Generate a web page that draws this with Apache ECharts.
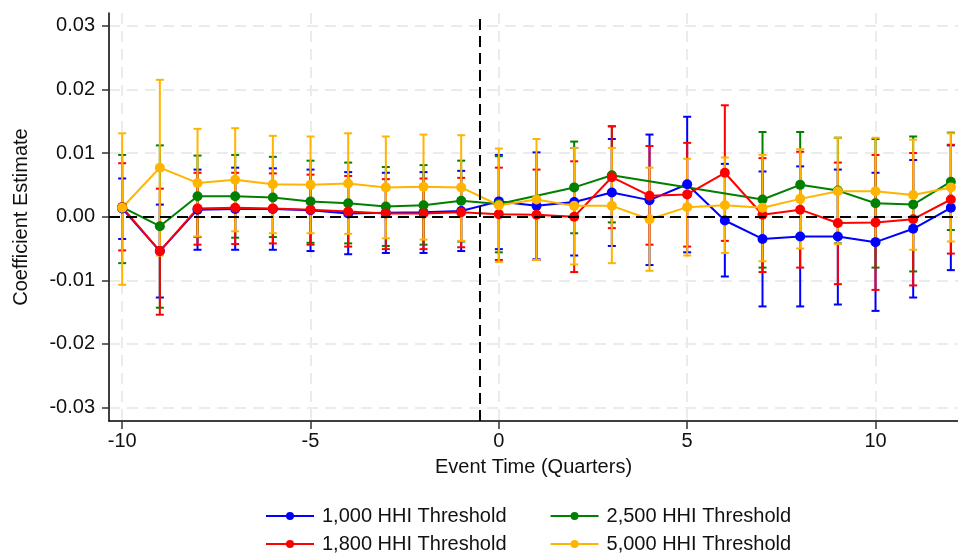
<!DOCTYPE html>
<html>
<head>
<meta charset="utf-8">
<script src="https://cdn.jsdelivr.net/npm/echarts@6/dist/echarts.min.js"></script>
<style>
  html, body { margin: 0; padding: 0; background: #fff; }
  #chart { width: 958px; height: 554px; }
</style>
</head>
<body>
<div id="chart"></div>
<script>
// Event-study coefficients with 95% confidence intervals by HHI threshold
const eventTime = [-10, -9, -8, -7, -6, -5, -4, -3, -2, -1, 0, 1, 2, 3, 4, 5, 6, 7, 8, 9, 10, 11, 12];

const xTicks = [-10, -5, 0, 5, 10];
const yTicks = [-0.03, -0.02, -0.01, 0, 0.01, 0.02, 0.03];

// 1,000 HHI threshold
const est1000 = [0.0013, -0.0054, 0.0011, 0.0012, 0.0012, 0.0010, 0.0005, 0.0006, 0.0007, 0.0009, 0.0024, 0.0017, 0.0023, 0.0038, 0.0026, 0.0051, -0.0006, -0.0035, -0.0031, -0.0031, -0.0040, -0.0019, 0.0014];
const lo1000  = [-0.0035, -0.0127, -0.0052, -0.0052, -0.0052, -0.0054, -0.0059, -0.0057, -0.0057, -0.0054, -0.0051, -0.0067, -0.0061, -0.0046, -0.0076, -0.0056, -0.0094, -0.0141, -0.0141, -0.0138, -0.0148, -0.0127, -0.0084];
const hi1000  = [0.0060, 0.0019, 0.0074, 0.0077, 0.0076, 0.0074, 0.0070, 0.0069, 0.0070, 0.0072, 0.0097, 0.0101, 0.0108, 0.0122, 0.0129, 0.0157, 0.0083, 0.0071, 0.0079, 0.0074, 0.0069, 0.0089, 0.0112];

// 1,800 HHI threshold
const est1800 = [0.0015, -0.0054, 0.0013, 0.0014, 0.0013, 0.0011, 0.0008, 0.0005, 0.0005, 0.0007, 0.0004, 0.0003, 0.0000, 0.0062, 0.0033, 0.0035, 0.0069, 0.0003, 0.0011, -0.0010, -0.0009, -0.0004, 0.0027];
const lo1800  = [-0.0053, -0.0154, -0.0044, -0.0043, -0.0042, -0.0044, -0.0047, -0.0051, -0.0051, -0.0048, -0.0068, -0.0068, -0.0087, -0.0018, -0.0044, -0.0047, -0.0038, -0.0087, -0.0080, -0.0106, -0.0115, -0.0108, -0.0058];
const hi1800  = [0.0084, 0.0044, 0.0069, 0.0069, 0.0068, 0.0066, 0.0064, 0.0059, 0.0060, 0.0061, 0.0077, 0.0074, 0.0087, 0.0142, 0.0111, 0.0116, 0.0175, 0.0092, 0.0102, 0.0085, 0.0097, 0.0100, 0.0113];

// 2,500 HHI threshold (null = not estimated)
const est2500 = [0.0015, -0.0015, 0.0032, 0.0032, 0.0030, 0.0024, 0.0021, 0.0016, 0.0018, 0.0025, 0.0020, null, 0.0046, 0.0065, null, null, null, 0.0027, 0.0050, 0.0041, 0.0021, 0.0019, 0.0055];
const lo2500  = [-0.0073, -0.0143, -0.0032, -0.0033, -0.0032, -0.0041, -0.0042, -0.0046, -0.0044, -0.0039, -0.0056, null, -0.0026, -0.0009, null, null, null, -0.0080, -0.0033, -0.0042, -0.0080, -0.0086, -0.0021];
const hi2500  = [0.0097, 0.0112, 0.0096, 0.0097, 0.0094, 0.0088, 0.0085, 0.0078, 0.0081, 0.0088, 0.0095, null, 0.0118, 0.0142, null, null, null, 0.0133, 0.0133, 0.0124, 0.0122, 0.0126, 0.0132];

// 5,000 HHI threshold
const est5000 = [0.0014, 0.0077, 0.0053, 0.0058, 0.0051, 0.0050, 0.0052, 0.0046, 0.0047, 0.0046, 0.0018, 0.0027, 0.0017, 0.0017, -0.0004, 0.0015, 0.0018, 0.0014, 0.0028, 0.0040, 0.0040, 0.0034, 0.0046];
const lo5000  = [-0.0107, -0.0061, -0.0031, -0.0023, -0.0026, -0.0026, -0.0027, -0.0034, -0.0036, -0.0038, -0.0071, -0.0068, -0.0075, -0.0073, -0.0085, -0.0061, -0.0057, -0.0070, -0.0050, -0.0043, -0.0043, -0.0052, -0.0039];
const hi5000  = [0.0131, 0.0215, 0.0138, 0.0139, 0.0127, 0.0126, 0.0131, 0.0126, 0.0129, 0.0128, 0.0107, 0.0122, 0.0108, 0.0108, 0.0077, 0.0091, 0.0093, 0.0097, 0.0106, 0.0124, 0.0124, 0.0121, 0.0131];

const groups = [
  { name: '1,000 HHI Threshold', color: '#0000ff', est: est1000, lo: lo1000, hi: hi1000 },
  { name: '2,500 HHI Threshold', color: '#008000', est: est2500, lo: lo2500, hi: hi2500 },
  { name: '1,800 HHI Threshold', color: '#ff0000', est: est1800, lo: lo1800, hi: hi1800 },
  { name: '5,000 HHI Threshold', color: '#ffb400', est: est5000, lo: lo5000, hi: hi5000 }
];

const FONT = '"Liberation Sans", Arial, Helvetica, sans-serif';
const CAP_HALF = 4;

function errorBarItem(color) {
  return function (params, api) {
    const x = api.value(0);
    const top = api.coord([x, api.value(2)]);
    const bot = api.coord([x, api.value(1)]);
    const style = { stroke: color, lineWidth: 2, fill: null };
    return {
      type: 'group',
      children: [
        { type: 'line', shape: { x1: top[0], y1: top[1], x2: bot[0], y2: bot[1] }, style: style },
        { type: 'line', shape: { x1: top[0] - CAP_HALF, y1: top[1], x2: top[0] + CAP_HALF, y2: top[1] }, style: style },
        { type: 'line', shape: { x1: bot[0] - CAP_HALF, y1: bot[1], x2: bot[0] + CAP_HALF, y2: bot[1] }, style: style }
      ]
    };
  };
}

const series = [{
  // reference lines: zero effect and treatment onset
  type: 'line',
  name: 'ref',
  data: [],
  silent: true,
  markLine: {
    silent: true,
    symbol: ['none', 'none'],
    label: { show: false },
    lineStyle: { color: '#000', width: 2, type: [11, 6] },
    emphasis: { disabled: true },
    data: [{ yAxis: 0 }, { xAxis: -0.5 }]
  }
}];

groups.forEach(function (g) {
  const bars = [];
  const pts = [];
  eventTime.forEach(function (t, i) {
    if (g.est[i] === null) return;
    bars.push([t, g.lo[i], g.hi[i]]);
    pts.push([t, g.est[i]]);
  });
  series.push({
    type: 'custom',
    name: g.name + ' CI',
    renderItem: errorBarItem(g.color),
    data: bars,
    encode: { x: 0, y: [1, 2] },
    silent: true
  });
  series.push({
    type: 'line',
    name: g.name,
    data: pts,
    symbol: 'circle',
    symbolSize: 10,
    showAllSymbol: true,
    itemStyle: { color: g.color },
    lineStyle: { color: g.color, width: 2 },
    emphasis: { disabled: true }
  });
});

const legendBase = {
  orient: 'horizontal',
  left: 260,
  itemWidth: 48,
  itemHeight: 10,
  itemGap: 43,
  selectedMode: false,
  textStyle: { fontFamily: FONT, fontSize: 20, color: '#111', padding: [0, 0, 0, 3] }
};

const option = {
  animation: false,
  backgroundColor: '#fff',
  grid: { left: 109, right: 0, top: 13, bottom: 133 },
  legend: [
    Object.assign({}, legendBase, { top: 501, data: [groups[0].name, groups[1].name] }),
    Object.assign({}, legendBase, { top: 529, data: [groups[2].name, groups[3].name] })
  ],
  xAxis: {
    type: 'value',
    min: -10.35,
    max: 12.19,
    name: 'Event Time (Quarters)',
    nameLocation: 'middle',
    nameGap: 36,
    nameTextStyle: { fontFamily: FONT, fontSize: 20, color: '#111' },
    axisLine: { show: true, onZero: false, lineStyle: { color: '#000', width: 1.5 } },
    axisTick: { show: true, length: 8, customValues: xTicks, lineStyle: { color: '#333', width: 1.5 } },
    axisLabel: { customValues: xTicks, margin: 10, fontFamily: FONT, fontSize: 20, color: '#111' },
    splitLine: { show: true, lineStyle: { color: '#ebebeb', width: 2, type: [11, 7] } }
  },
  yAxis: {
    type: 'value',
    min: -0.0321,
    max: 0.032,
    name: 'Coefficient Estimate',
    nameLocation: 'middle',
    nameGap: 78,
    nameTextStyle: { fontFamily: FONT, fontSize: 20, color: '#111' },
    axisLine: { show: true, onZero: false, lineStyle: { color: '#000', width: 1.5 } },
    axisTick: { show: true, length: 7, customValues: yTicks, lineStyle: { color: '#333', width: 1.5 } },
    axisLabel: {
      customValues: yTicks,
      margin: 14,
      fontFamily: FONT,
      fontSize: 20,
      color: '#111',
      formatter: function (v) { return v.toFixed(2); }
    },
    splitLine: { show: true, lineStyle: { color: '#ebebeb', width: 2, type: [11, 7] } }
  },
  series: series
};

const chart = echarts.init(document.getElementById('chart'), null, { renderer: 'canvas' });
chart.setOption(option);
</script>
</body>
</html>
